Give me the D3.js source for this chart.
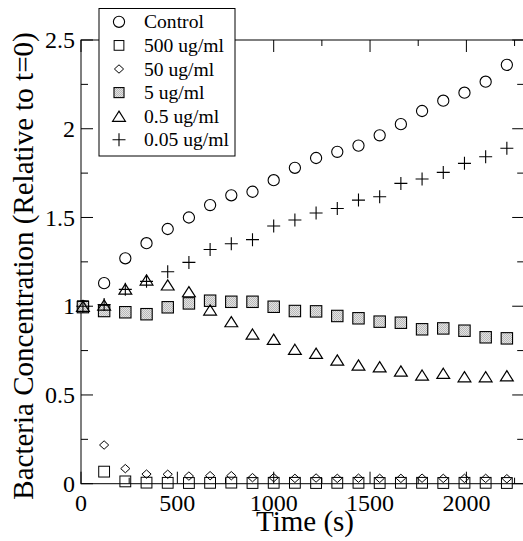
<!DOCTYPE html>
<html><head><meta charset="utf-8">
<script src="https://cdn.jsdelivr.net/npm/d3@7"></script>
<style>html,body{margin:0;padding:0;background:#fff;overflow:hidden}
svg text{font-family:"Liberation Serif","DejaVu Serif","Times New Roman",Times,serif;}</style>
</head><body>
<svg id="chart" width="523" height="541"></svg>
<script>
// ---- data ----
const times = [10,120,230,340,450,560,670,780,890,1000,1110,1220,1330,1440,1550,1660,1770,1880,1990,2100,2210];
const control = [1.0,1.13,1.27,1.355,1.435,1.50,1.57,1.625,1.645,1.71,1.78,1.835,1.87,1.905,1.963,2.026,2.10,2.158,2.203,2.265,2.36];
const ug500 = [1.0,0.068,0.013,0.006,0.005,0.004,0.005,0.006,0.004,0.005,0.005,0.004,0.005,0.005,0.004,0.005,0.005,0.004,0.005,0.005,0.004];
const ug50 = [1.0,0.218,0.085,0.054,0.053,0.043,0.045,0.045,0.034,0.034,0.03,0.032,0.03,0.031,0.03,0.03,0.031,0.03,0.03,0.03,0.028];
const ug5 = [0.995,0.973,0.966,0.955,0.994,1.016,1.031,1.025,1.025,0.997,0.973,0.971,0.945,0.932,0.913,0.907,0.87,0.875,0.862,0.825,0.819];
const ug05 = [1.0,1.007,1.097,1.148,1.12,1.082,0.979,0.913,0.843,0.814,0.757,0.735,0.697,0.669,0.659,0.635,0.612,0.622,0.603,0.603,0.608];
const ug005 = [1.0,1.01,1.095,1.14,1.194,1.247,1.32,1.352,1.375,1.452,1.486,1.525,1.551,1.598,1.617,1.692,1.717,1.754,1.805,1.842,1.89];
const seriesNames = ["Control","500 ug/ml","50 ug/ml","5 ug/ml","0.5 ug/ml","0.05 ug/ml"];
const xMajor = [0,500,1000,1500,2000];
const xMinor = [250,750,1250,1750,2250];
const yMajor = [0,0.5,1,1.5,2,2.5];
const yMinor = [0.25,0.75,1.25,1.75,2.25];
const xTitle = "Time (s)";
const yTitle = "Bacteria Concentration (Relative to t=0)";

const seriesValues = [control, ug500, ug50, ug5, ug05, ug005];
const shapes = ["circle","square","diamond","shaded","triangle","plus"];

const svg = d3.select("#chart");
const L = 81, R = 524.2, T = 40, B = 483.7;
const x = d3.scaleLinear().domain([0,2300]).range([L,R]);
const y = d3.scaleLinear().domain([0,2.5]).range([B,T]);

const defs = svg.append("defs");
const pat = defs.append("pattern").attr("id","stip").attr("width",2).attr("height",2).attr("patternUnits","userSpaceOnUse");
pat.append("rect").attr("width",2).attr("height",2).attr("fill","#e4e4e4");
pat.append("rect").attr("width",1).attr("height",1).attr("fill","#b8b8b8");
pat.append("rect").attr("x",1).attr("y",1).attr("width",1).attr("height",1).attr("fill","#b8b8b8");

// frame
const frame = svg.append("g").attr("stroke","#000").attr("stroke-width",1).attr("fill","none");
frame.append("rect").attr("x",L).attr("y",T).attr("width",R-L).attr("height",B-T);

// ticks (inward, all four sides)
const tk = svg.append("g").attr("stroke","#000").attr("stroke-width",1);
function xt(vals,len){
  vals.forEach(v=>{
    tk.append("line").attr("x1",x(v)).attr("x2",x(v)).attr("y1",B).attr("y2",B-len);
    tk.append("line").attr("x1",x(v)).attr("x2",x(v)).attr("y1",T).attr("y2",T+len);
  });
}
function yt(vals,len){
  vals.forEach(v=>{
    tk.append("line").attr("y1",y(v)).attr("y2",y(v)).attr("x1",L).attr("x2",L+len);
    tk.append("line").attr("y1",y(v)).attr("y2",y(v)).attr("x1",R).attr("x2",R-len);
  });
}
xt(xMajor,12); xt(xMinor,6); yt(yMajor,12); yt(yMinor,7);

// tick labels
svg.append("g").selectAll("text").data(xMajor).join("text")
  .attr("x",d=>x(d)).attr("y",B+27).attr("text-anchor","middle")
  .attr("font-size",24).text(d=>d3.format("d")(d));
svg.append("g").selectAll("text").data(yMajor).join("text")
  .attr("x",75).attr("y",d=>y(d)).attr("dy","0.34em").attr("text-anchor","end")
  .attr("font-size",24).text(d=>String(d));

// axis titles
svg.append("text").attr("x",305).attr("y",531).attr("text-anchor","middle")
  .attr("font-size",29).text(xTitle);
svg.append("text").attr("transform","translate(33,266) rotate(-90)").attr("text-anchor","middle")
  .attr("font-size",29).text(yTitle);

// marker drawer
function marker(g, shape, cx, cy, s){
  s = s || 1;
  if(shape==="circle"){
    g.append("circle").attr("cx",cx).attr("cy",cy).attr("r",5.6*s).attr("fill","none").attr("stroke","#000").attr("stroke-width",1.1);
  } else if(shape==="square"){
    const h=5.4*s;
    g.append("rect").attr("x",cx-h).attr("y",cy-h).attr("width",2*h).attr("height",2*h).attr("fill","none").attr("stroke","#000").attr("stroke-width",1);
  } else if(shape==="shaded"){
    const h=5.7*s;
    g.append("rect").attr("x",cx-h).attr("y",cy-h).attr("width",2*h).attr("height",2*h).attr("fill","url(#stip)").attr("stroke","#000").attr("stroke-width",1.1);
  } else if(shape==="diamond"){
    const w=4.6*s, hh=4.2*s;
    g.append("path").attr("d",`M${cx},${cy-hh}L${cx+w},${cy}L${cx},${cy+hh}L${cx-w},${cy}Z`).attr("fill","none").attr("stroke","#000").attr("stroke-width",1);
  } else if(shape==="triangle"){
    const w=6.4*s, hh=5.1*s;
    g.append("path").attr("d",`M${cx},${cy-hh}L${cx+w},${cy+hh}L${cx-w},${cy+hh}Z`).attr("fill","none").attr("stroke","#000").attr("stroke-width",1.2);
  } else if(shape==="plus"){
    const h=6.5*s;
    g.append("path").attr("d",`M${cx-h},${cy}H${cx+h}M${cx},${cy-h}V${cy+h}`).attr("fill","none").attr("stroke","#000").attr("stroke-width",1.1);
  }
}

// data marks
const marks = svg.append("g");
seriesValues.forEach((vals,i)=>{
  vals.forEach((v,j)=>{ marker(marks, shapes[i], x(times[j]), y(v)); });
});

// legend
const lg = svg.append("g");
lg.append("rect").attr("x",99).attr("y",8.5).attr("width",136).attr("height",147.5)
  .attr("fill","#fff").attr("stroke","#000").attr("stroke-width",1);
seriesNames.forEach((n,i)=>{
  const cy = 21.8 + i*23.6;
  marker(lg, shapes[i], 119, cy, shapes[i]==="shaded"?0.88:(shapes[i]==="square"?0.9:1));
  lg.append("text").attr("x",144).attr("y",cy+6.6).attr("font-size",19.6).text(n);
});
</script>
</body></html>
